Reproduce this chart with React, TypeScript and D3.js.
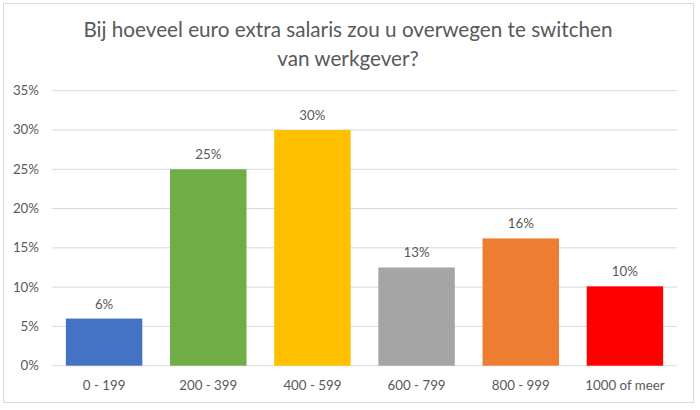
import React from "react";
import * as d3 from "d3";

const categories = ["0 - 199", "200 - 399", "400 - 599", "600 - 799", "800 - 999", "1000 of meer"];
const values = [6.0, 25.0, 30.0, 12.5, 16.2, 10.1];
const labels = ["6%", "25%", "30%", "13%", "16%", "10%"];
const colors = ["#4472C4", "#70AD47", "#FFC000", "#A5A5A5", "#ED7D31", "#FF0000"];
const yTicks = [0, 5, 10, 15, 20, 25, 30, 35];
const titleLines = ["Bij hoeveel euro extra salaris zou u overwegen te switchen", "van werkgever?"];

const W = 700, H = 410;
const plot = { left: 52, right: 677, top: 90.7, bottom: 365.7 };
const font = "Lato, 'Open Sans', sans-serif";
const textColor = "#595959";

export default function App() {
  const x = d3.scaleBand<string>().domain(categories).range([plot.left, plot.right]).paddingInner(0.266).paddingOuter(0.133);
  const y = d3.scaleLinear().domain([0, 35]).range([plot.bottom, plot.top]);
  return (
    <svg width={W} height={H} style={{ position: "absolute", left: 0, top: 0 }} fontFamily={font}>
      <rect x={0} y={0} width={W} height={H} fill="#fff" />
      <rect x={3.5} y={3.5} width={690} height={399} fill="#fff" stroke="#d9d9d9" strokeWidth={1} />
      {titleLines.map((t, i) => (
        <text key={i} x={348} y={37 + i * 28.5} textAnchor="middle" fontSize={20.7} fill={textColor}>{t}</text>
      ))}
      {yTicks.map((t) => (
        <g key={t}>
          <line x1={plot.left} x2={plot.right} y1={y(t)} y2={y(t)} stroke="#d9d9d9" strokeWidth={1} />
          <text x={39} y={y(t) + 4.5} textAnchor="end" fontSize={13.3} fill={textColor}>{t}%</text>
        </g>
      ))}
      {categories.map((c, i) => (
        <g key={c}>
          <rect x={x(c)} y={y(values[i])} width={x.bandwidth()} height={y(0) - y(values[i])} fill={colors[i]} />
          <text x={(x(c) as number) + x.bandwidth() / 2} y={y(values[i]) - 10} textAnchor="middle" fontSize={13.3} fill={textColor}>{labels[i]}</text>
          <text x={(x(c) as number) + x.bandwidth() / 2} y={390} textAnchor="middle" fontSize={13.3} fill={textColor}>{c}</text>
        </g>
      ))}
    </svg>
  );
}
